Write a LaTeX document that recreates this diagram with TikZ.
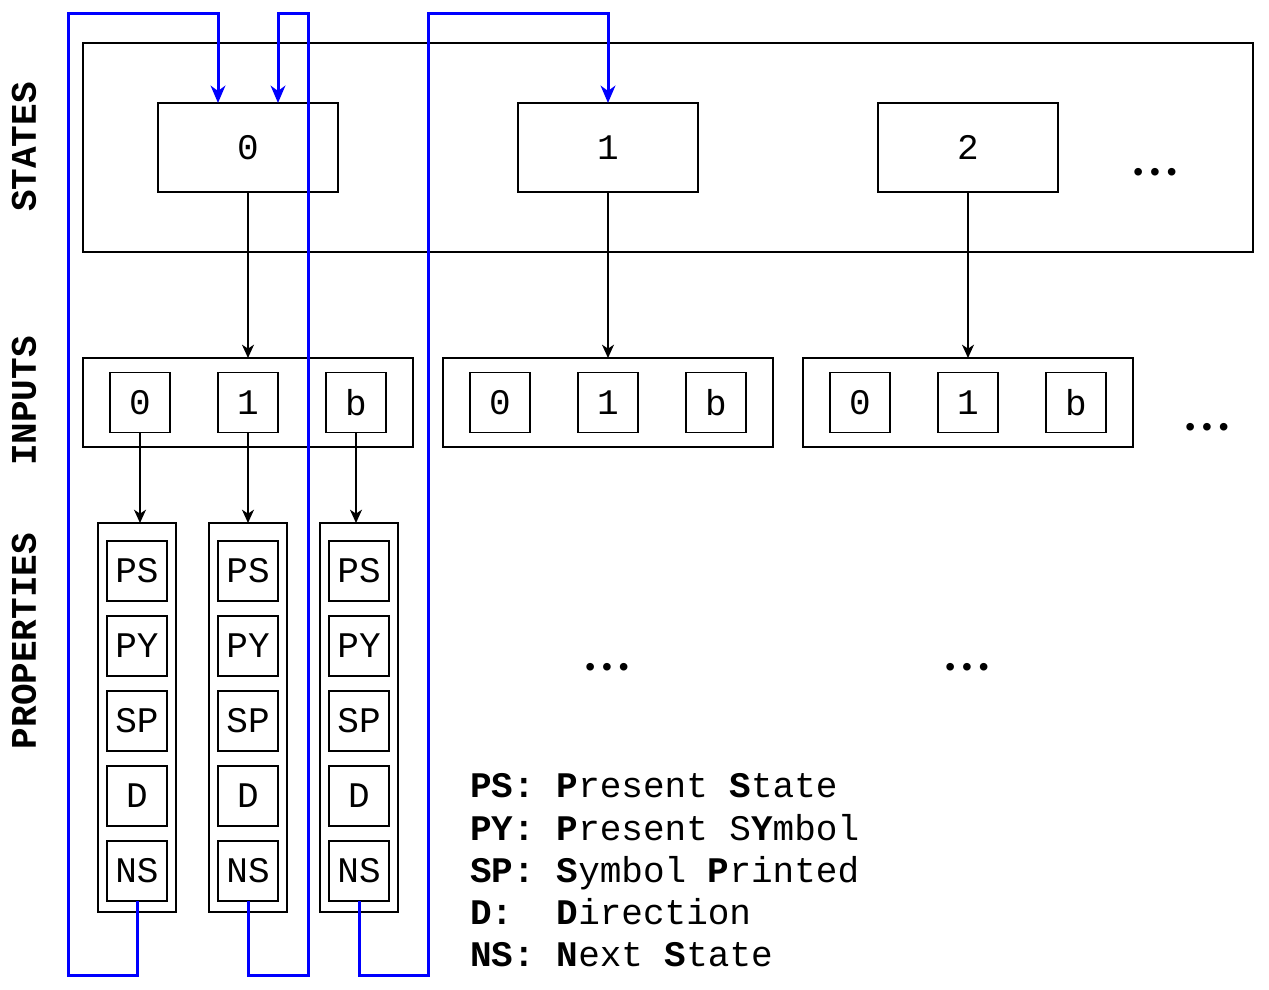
\documentclass[tikz,border=0pt]{standalone}
\usepackage{fontspec}
\setmainfont{Liberation Mono}
\usetikzlibrary{arrows.meta}
\frenchspacing

\tikzset{
  box/.style={draw, line width=1.1pt, inner sep=0pt, outer sep=0pt, font=\fontsize{27}{32}\selectfont},
  statebox/.style={box, minimum width=135pt, minimum height=66.75pt},
  cell/.style={box, minimum width=45pt, minimum height=45pt},
  group/.style={box, minimum width=247.5pt, minimum height=66.75pt},
  column/.style={box, minimum width=58.5pt, minimum height=291.75pt},
  link/.style={line width=1.1pt, -{Stealth[length=10pt,width=9pt,inset=3pt]}},
  feedback/.style={blue, line width=2.25pt, -{Stealth[length=13pt,width=11pt,inset=4pt]}},
  side/.style={rotate=90, font=\fontsize{27}{32}\selectfont\bfseries},
  etc/.style={inner sep=0pt, font=\fontsize{21}{25}\selectfont},
  legend/.style={anchor=base west, inner sep=0pt, font=\fontsize{27}{32}\selectfont},
}

\begin{document}
\begin{tikzpicture}[x=0.75pt, y=-0.75pt]
  \useasboundingbox (0,0) rectangle (1269,989);

  % side labels
  \node[side] (lstates) at (24,147) {STATES};
  \node[side] (linputs) at (24,401) {INPUTS};
  \node[side] (lprops) at (24,641) {PROPERTIES};

  % states and their inputs
  \node[box, minimum width=877.5pt, minimum height=156.75pt] (states) at (668,147.5) {};
  \foreach \s/\x in {0/248, 1/608, 2/968} {
    \node[statebox] (st\s) at (\x,147.5) {\s};
    \node[group] (grp\s) at (\x,402.5) {};
    \node[cell] (in\s-0) at (\x-108,402.5) {0};
    \node[cell] (in\s-1) at (\x,402.5) {1};
    \node[cell] (in\s-b) at (\x+108,402.5) {b};
    \draw[link] (st\s.south) -- (grp\s.north);
  }
  \node[etc] (dotsst) at (1155,175) {•••};
  \node[etc] (dotsin) at (1207,430) {•••};

  % properties of state 0
  \foreach \c/\x in {0/137, 1/248, 2/359} {
    \node[column] (col\c) at (\x,717.5) {};
    \foreach \p/\y in {PS/571, PY/646, SP/721, D/796, NS/871}
      \node[cell] (\p\c) at (\x,\y) {\p};
  }
  \foreach \c/\l in {0/0, 1/1, 2/b}
    \draw[link] (in0-\l.south) -- (in0-\l.south |- col\c.north);
  \node[etc] (dotsp1) at (607,670) {•••};
  \node[etc] (dotsp2) at (967,670) {•••};

  % legend
  \node[legend] (leg1) at (470,797) {\textbf{PS:} \textbf{P}resent \textbf{S}tate};
  \node[legend] (leg2) at (470,840) {\textbf{PY:} \textbf{P}resent S\textbf{Y}mbol};
  \node[legend] (leg3) at (470,882) {\textbf{SP:} \textbf{S}ymbol \textbf{P}rinted};
  \node[legend] (leg4) at (470,924) {\textbf{D:}\ \ \textbf{D}irection};
  \node[legend] (leg5) at (470,966) {\textbf{NS:} \textbf{N}ext \textbf{S}tate};

  % next state feedback
  \coordinate (ent0) at ([xshift=-22.5pt]st0.north);
  \coordinate (ent1) at ([xshift=22.5pt]st0.north);
  \draw[feedback] (NS0.south) |- (68,975) |- (218,13) -- (ent0);
  \draw[feedback] (NS1.south) |- (308,975) |- (278,13) -- (ent1);
  \draw[feedback] (NS2.south) |- (428,975) |- (608,13) -- (st1.north);
\end{tikzpicture}
\end{document}
